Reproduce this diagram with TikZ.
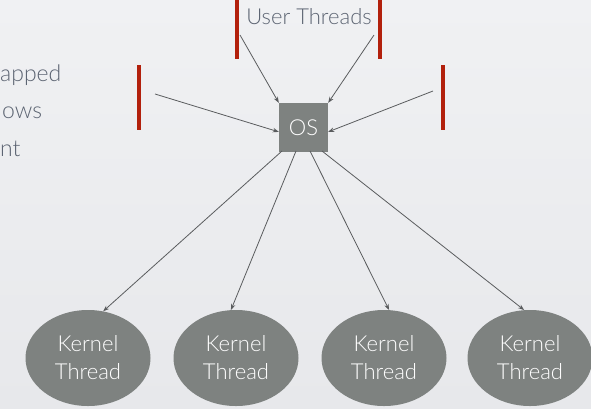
\documentclass[tikz,border=0pt]{standalone}
\usepackage{fontspec}
\setmainfont{Lato Light}
\usetikzlibrary{arrows.meta,shapes.geometric}
\definecolor{bgtop}{HTML}{F0F1F3}
\definecolor{bgbot}{HTML}{E7E8EB}
\definecolor{barred}{HTML}{B2200C}
\definecolor{boxgray}{HTML}{7E8280}
\definecolor{txtgray}{HTML}{5C6472}
\definecolor{linegray}{HTML}{5A5C5E}
\begin{document}
\begin{tikzpicture}[x=1pt,y=-1pt,
  bar/.style={fill=barred},
  link/.style={draw=linegray,line width=0.8pt,-{Stealth[length=6pt,width=4.5pt]}},
  kthread/.style={ellipse,fill=boxgray,minimum width=125pt,minimum height=96pt,inner sep=0pt,
    text=white,align=center,font=\fontsize{22}{28}\selectfont},
  osbox/.style={fill=boxgray,minimum size=49pt,inner sep=0pt,text=white,font=\fontsize{22}{26}\selectfont},
  caption/.style={text=txtgray,font=\fontsize{22}{26}\selectfont,inner sep=0pt}]

% backdrop
\shade[top color=bgtop,bottom color=bgbot] (0,0) rectangle (591,408);
\useasboundingbox (0,0) rectangle (591,408);

% bullet text at the left edge
\node[caption,anchor=base west,font=\fontsize{23}{26}\selectfont] (t1) at (0,81) {apped};
\node[caption,anchor=base west,font=\fontsize{23}{26}\selectfont] (t2) at (2,118) {ows};
\node[caption,anchor=base west,font=\fontsize{23}{26}\selectfont] (t3) at (0,156) {nt};

% user thread bars
\fill[bar] (235,0) rectangle (239,59);
\fill[bar] (378,0) rectangle (382,59);
\fill[bar] (137,65) rectangle (141,130);
\fill[bar] (441,65) rectangle (445,130);
\node[caption] (ut) at (309,17) {User Threads};

% scheduler
\node[osbox] (os) at (303.5,127.5) {OS};

% kernel threads
\node[kthread] (k1) at (88,358) {Kernel\\Thread};
\node[kthread] (k2) at (236,358) {Kernel\\Thread};
\node[kthread] (k3) at (384,358) {Kernel\\Thread};
\node[kthread] (k4) at (530,358) {Kernel\\Thread};

% arrow tails
\coordinate (u1) at (240,35);
\coordinate (u2) at (374,35);
\coordinate (u3) at (155,94);
\coordinate (u4) at (433,91);
\coordinate (o1) at (282,151);
\coordinate (o2) at (296,151);
\coordinate (o3) at (310,151);
\coordinate (o4) at (322,151);

\draw[link] (u1) -- (os.north west);
\draw[link] (u2) -- (os.north east);
\draw[link] (u3) -- (os.190);
\draw[link] (u4) -- (os.-10);

\draw[link] (o1) -- (k1.72);
\draw[link] (o2) -- (k2.96);
\draw[link] (o3) -- (k3.84);
\draw[link] (o4) -- (k4.97);
\end{tikzpicture}
\end{document}
